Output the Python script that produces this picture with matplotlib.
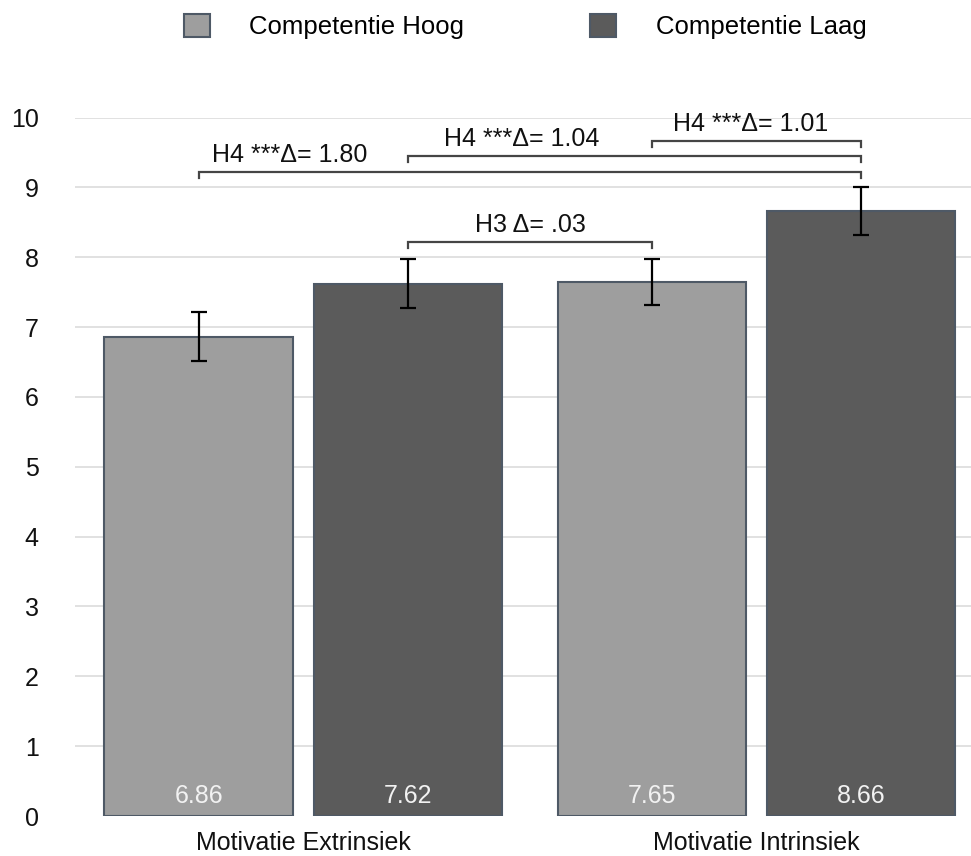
import matplotlib.pyplot as plt
import numpy as np

plt.rcParams['font.family'] = ['Liberation Sans', 'DejaVu Sans']

# Data
groups = ['Motivatie Extrinsiek', 'Motivatie Intrinsiek']
series = ['Competentie Hoog', 'Competentie Laag']
hoog = [6.86, 7.65]
laag = [7.62, 8.66]
hoog_err = [0.35, 0.33]
laag_err = [0.35, 0.34]
value_labels_hoog = ['6.86', '7.65']
value_labels_laag = ['7.62', '8.66']

# brackets: (from bar, to bar, height, label)
bracket_from = [0, 1, 2, 1]
bracket_to = [3, 3, 3, 2]
bracket_y = [9.22, 9.45, 9.67, 8.22]
bracket_text = ['H4 ***\u0394= 1.80', 'H4 ***\u0394= 1.04', 'H4 ***\u0394= 1.01', 'H3 \u0394= .03']
bracket_text_x = [0.02, 0.08, 0.47, 0.5]   # fraction along bracket
bracket_text_ha = ['left', 'left', 'center', 'center']

# Style
light = '#9e9e9e'
dark = '#5b5b5b'
edge = '#4e5966'
fs = 18

fig = plt.figure(figsize=(9.71, 8.56), dpi=100)
ax = fig.add_axes([0.0772, 0.0467, 1 - 0.0772, 0.8627 - 0.0467])

x = np.arange(len(groups))
w = 0.417
off = 0.2307

b1 = ax.bar(x - off, hoog, w, color=light, edgecolor=edge, linewidth=1.5, zorder=2, label=series[0])
b2 = ax.bar(x + off, laag, w, color=dark, edgecolor=edge, linewidth=1.5, zorder=2, label=series[1])
ax.errorbar(x - off, hoog, yerr=hoog_err, fmt='none', ecolor='black', elinewidth=1.6, capsize=6, capthick=1.6, zorder=3)
ax.errorbar(x + off, laag, yerr=laag_err, fmt='none', ecolor='black', elinewidth=1.6, capsize=6, capthick=1.6, zorder=3)

for xi, lab in zip(x - off, value_labels_hoog):
    ax.text(xi, 0.28, lab, ha='center', va='center', color='#f2f2f2', fontsize=fs)
for xi, lab in zip(x + off, value_labels_laag):
    ax.text(xi, 0.28, lab, ha='center', va='center', color='#f2f2f2', fontsize=fs)

# bar centers in order: hoog1, laag1, hoog2, laag2
centers = [x[0] - off, x[0] + off, x[1] - off, x[1] + off]
tick = 0.09
for i in range(len(bracket_y)):
    xa, xb = centers[bracket_from[i]], centers[bracket_to[i]]
    y = bracket_y[i]
    ax.plot([xa, xa, xb, xb], [y - tick, y, y, y - tick], color='#454545', lw=1.6,
            solid_joinstyle='miter', zorder=4, clip_on=False)
    tx = xa + bracket_text_x[i] * (xb - xa)
    ax.text(tx, y + 0.07, bracket_text[i], ha=bracket_text_ha[i], va='bottom',
            fontsize=fs, color='#111111')

ax.set_ylim(0, 10)
ax.set_xlim(-0.5044, 1.4735)
ax.set_yticks(np.arange(0, 11, 1))
ax.set_xticks(x)
ax.set_xticklabels(groups)
ax.tick_params(axis='both', length=0, labelsize=fs, colors='#111111')
ax.tick_params(axis='y', pad=26)
ax.tick_params(axis='x', pad=11)
for yv in range(1, 11):
    ax.axhline(yv, color='#dedede', lw=1.3, zorder=0)
for s in ax.spines.values():
    s.set_visible(False)

fig.legend(handles=[b1, b2], labels=series, loc='center', bbox_to_anchor=(0.541, 0.969),
           ncol=2, frameon=False, fontsize=18.5, handlelength=1.0, handleheight=1.0,
           handletextpad=1.55, columnspacing=4.9)

fig.savefig('out.png', dpi=100)
